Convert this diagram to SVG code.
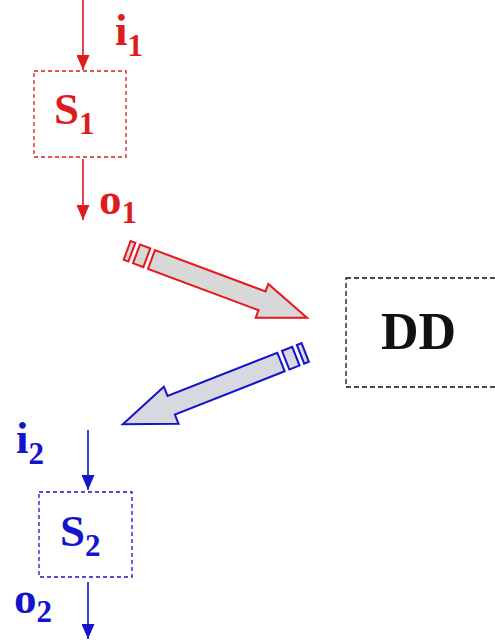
<svg xmlns="http://www.w3.org/2000/svg" width="495" height="640" viewBox="0 0 495 640">
<style>
  .red { fill: #dd1c1c; }
  .blue { fill: #1414cc; }
  .txt { font-family: "Liberation Serif", "Times New Roman", serif; font-weight: bold; }
  .big { font-size: 45px; }
  .sub { font-size: 31px; }
  .boxR { fill: none; stroke: #dd1c1c; stroke-width: 1.3; stroke-dasharray: 4 3; }
  .boxB { fill: none; stroke: #1414cc; stroke-width: 1.3; stroke-dasharray: 4 3; }
  .boxK { fill: none; stroke: #111; stroke-width: 1.3; stroke-dasharray: 5 3; }
  .lnR { stroke: #dd1c1c; stroke-width: 1.6; }
  .lnB { stroke: #1414cc; stroke-width: 1.6; }
  .fatR { fill: #d8d8d8; stroke: #e8141e; stroke-width: 2; stroke-linejoin: miter; }
  .fatB { fill: #d8d8e0; stroke: #1414cc; stroke-width: 2; stroke-linejoin: miter; }
</style>
<defs>
  <marker id="ahR" viewBox="0 0 15 13" refX="15" refY="6.5" markerWidth="15" markerHeight="13" markerUnits="userSpaceOnUse" orient="auto">
    <path d="M0,0 L15,6.5 L0,13 z" fill="#dd1c1c"/>
  </marker>
  <marker id="ahB" viewBox="0 0 15 13" refX="15" refY="6.5" markerWidth="15" markerHeight="13" markerUnits="userSpaceOnUse" orient="auto">
    <path d="M0,0 L15,6.5 L0,13 z" fill="#1414cc"/>
  </marker>
</defs>
<rect width="495" height="640" fill="#fff"/>

<g id="S1">
  <rect class="boxR" x="34" y="71" width="92" height="86"/>
  <text class="txt red" x="54"><tspan class="big" y="124">S</tspan><tspan class="sub" y="134">1</tspan></text>
</g>

<g id="S2">
  <rect class="boxB" x="39" y="492" width="93" height="85"/>
  <text class="txt blue" x="60"><tspan class="big" y="546">S</tspan><tspan class="sub" y="556">2</tspan></text>
</g>

<g id="DD">
  <rect class="boxK" x="346" y="278" width="160" height="109"/>
  <text class="txt" x="381" y="349" font-size="52" fill="#111">DD</text>
</g>

<g id="labels">
  <text class="txt red" x="115"><tspan class="big" y="45">i</tspan><tspan class="sub" y="56">1</tspan></text>
  <text class="txt red" x="99"><tspan class="big" y="214">o</tspan><tspan class="sub" y="223">1</tspan></text>
  <text class="txt blue" x="16"><tspan class="big" y="453">i</tspan><tspan class="sub" y="464">2</tspan></text>
  <text class="txt blue" x="14"><tspan class="big" y="613">o</tspan><tspan class="sub" y="622">2</tspan></text>
</g>

<g id="connectors">
  <line class="lnR" x1="83" y1="0" x2="83" y2="70" marker-end="url(#ahR)"/>
  <line class="lnR" x1="83" y1="159" x2="83" y2="220" marker-end="url(#ahR)"/>
  <line class="lnB" x1="88" y1="430" x2="88" y2="490" marker-end="url(#ahB)"/>
  <line class="lnB" x1="88" y1="582" x2="88" y2="639" marker-end="url(#ahB)"/>

  <g transform="translate(151.5,259.5) rotate(20.5)">
    <polygon class="fatR" points="0,-10 118,-10 118,-18 166,0 118,18 118,10 0,10"/>
    <rect class="fatR" x="-16" y="-10" width="11" height="20"/>
    <rect class="fatR" x="-26" y="-10" width="5" height="20"/>
  </g>
  <g transform="translate(281,362) rotate(158.5)">
    <polygon class="fatB" points="0,-10 118,-10 118,-20 170,0 118,20 118,10 0,10"/>
    <rect class="fatB" x="-16" y="-10" width="11" height="20"/>
    <rect class="fatB" x="-26" y="-10" width="5" height="20"/>
  </g>
</g>
</svg>
